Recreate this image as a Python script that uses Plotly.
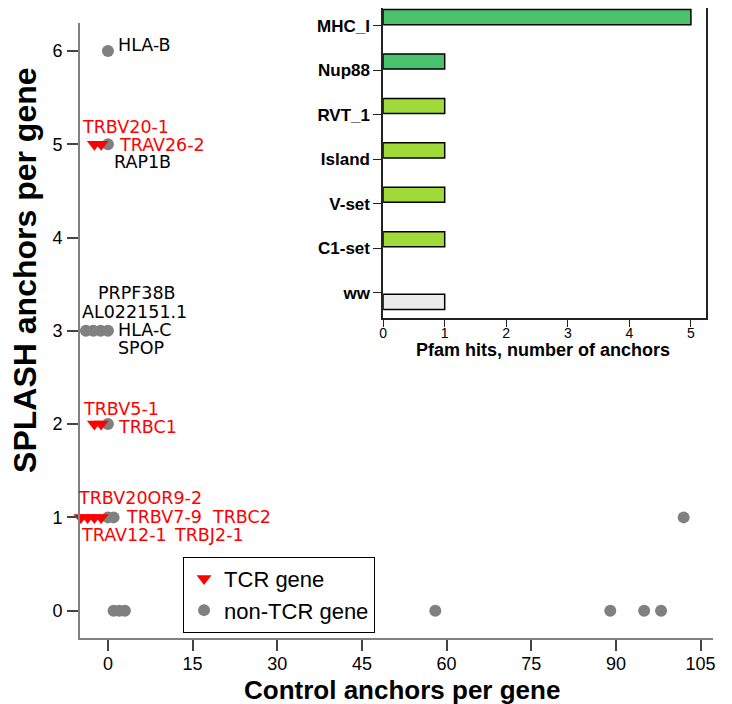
import plotly.graph_objects as go

# ---------------- data ----------------
tcr_genes = ["TRBV20-1", "TRAV26-2", "TRBV5-1", "TRBC1", "TRBV7-9",
             "TRBC2", "TRBJ2-1", "TRAV12-1", "TRBV20OR9-2"]
tcr_control = [-2.4, -1.2, -2.4, -1.2, -1.2, -2.4, -3.6, -4.8, -6.0]
tcr_splash = [5, 5, 2, 2, 1, 1, 1, 1, 1]

other_genes = ["HLA-B", "RAP1B", "SPOP", "HLA-C", "AL022151.1", "PRPF38B",
               "", "", "", "", "", "", "", "", "", "", ""]
other_control = [0, 0, 0, -1.3, -2.6, -3.9, 0, 0, 1, 102, 1, 2, 3, 58, 89, 95, 98]
other_splash = [6, 5, 3, 3, 3, 3, 2, 1, 1, 1, 0, 0, 0, 0, 0, 0, 0]

pfam_domains = ["MHC_I", "Nup88", "RVT_1", "Island", "V-set", "C1-set", "ww"]
pfam_hits = [5, 1, 1, 1, 1, 1, 1]

x_ticks = [0, 15, 30, 45, 60, 75, 90, 105]
y_ticks = [0, 1, 2, 3, 4, 5, 6]
pfam_ticks = [0, 1, 2, 3, 4, 5]

# ---------------- styles ----------------
pfam_colors = ["#4AC16D", "#4AC16D", "#A0DA39", "#A0DA39", "#A0DA39", "#A0DA39", "#EBEBEB"]
bar_width = 0.34
bar_offsets = [-0.37, -0.37, -0.37, -0.37, -0.37, -0.37, 0.04]

# label placement: gene -> (xshift px, yshift px), text anchored left
label_pos = {
    "HLA-B": (8, 6),
    "TRBV20-1": (-14, 17),
    "TRAV26-2": (16, -1),
    "RAP1B": (4, -18),
    "SPOP": (8, -17),
    "HLA-C": (15, 1),
    "AL022151.1": (-13, 19),
    "PRPF38B": (10, 38),
    "TRBV5-1": (-13, 15),
    "TRBC1": (15, -3),
    "TRBV7-9": (23, 0),
    "TRBC2": (116, 0),
    "TRBJ2-1": (84, -18),
    "TRAV12-1": (-2, -18),
    "TRBV20OR9-2": (2, 19),
}

X_RANGE = [-4.95, 107.2]
Y_RANGE = [-0.293, 6.303]
PLOT_W = 632.7
PX_PER_X = PLOT_W / (X_RANGE[1] - X_RANGE[0])

SANS = "Liberation Sans"
LABEL_FONT = "DejaVu Sans"
GREY = "#808080"
RED = "#FF0000"

fig = go.Figure()

fig.add_trace(go.Scatter(
    x=other_control, y=other_splash, mode="markers", name="non-TCR gene",
    marker=dict(symbol="circle", size=12, color=GREY),
    cliponaxis=False, legendrank=2, xaxis="x", yaxis="y",
))
fig.add_trace(go.Scatter(
    x=tcr_control, y=tcr_splash, mode="markers", name="TCR gene",
    marker=dict(symbol="triangle-down", size=13, color=RED),
    cliponaxis=False, legendrank=1, xaxis="x", yaxis="y",
))

fig.add_trace(go.Bar(
    x=pfam_hits, y=pfam_domains, orientation="h",
    marker=dict(color=pfam_colors, line=dict(color="black", width=1.5)),
    width=bar_width, offset=bar_offsets,
    showlegend=False, xaxis="x2", yaxis="y2",
))

annotations = []
for names, xs, ys, col in ((tcr_genes, tcr_control, tcr_splash, RED),
                           (other_genes, other_control, other_splash, "black")):
    for n, xv, yv in zip(names, xs, ys):
        if not n:
            continue
        dx, dy = label_pos[n]
        # annotations are hidden when anchored outside the axis range:
        # anchor at the range edge and compensate the shift in pixels
        xa = max(xv, X_RANGE[0] + 0.01)
        dx += (xv - xa) * PX_PER_X
        annotations.append(dict(
            x=xa, y=yv, xref="x", yref="y", text=n, showarrow=False,
            xanchor="left", yanchor="middle", xshift=dx, yshift=dy,
            font=dict(family=LABEL_FONT, size=17.5, color=col),
        ))

# axis titles
annotations += [
    dict(text="Control anchors per gene", xref="paper", yref="paper",
         x=0.5089, y=-0.082, showarrow=False, xanchor="center", yanchor="middle",
         font=dict(family=SANS, size=26, color="black", weight="bold")),
    dict(text="SPLASH anchors per gene", xref="paper", yref="paper",
         x=-0.0869, y=0.5843, showarrow=False, xanchor="center", yanchor="middle",
         textangle=-90,
         font=dict(family=SANS, size=32, color="black", weight="bold")),
    dict(text="Pfam hits, number of anchors", xref="paper", yref="paper",
         x=0.7310, y=0.4574, showarrow=False, xanchor="center", yanchor="middle",
         font=dict(family=SANS, size=18, color="black", weight="bold")),
]

fig.update_layout(
    width=724, height=696,
    margin=dict(l=72, r=19.3, t=0, b=65.7, autoexpand=False),
    paper_bgcolor="white", plot_bgcolor="rgba(0,0,0,0)",
    font=dict(family=SANS, color="black"),
    annotations=annotations,
    xaxis=dict(
        domain=[0, 1], range=X_RANGE, tickvals=x_ticks,
        showgrid=False, zeroline=False,
        showline=True, linecolor=GREY, linewidth=2,
        ticks="outside", ticklen=11, tickwidth=1.5, tickcolor="#444",
        tickfont=dict(family=SANS, size=18, color="black"),
        ticklabelstandoff=-3,
        anchor="y",
    ),
    yaxis=dict(
        domain=[0, 0.9767], range=Y_RANGE, tickvals=y_ticks,
        showgrid=False, zeroline=False,
        showline=True, linecolor=GREY, linewidth=2,
        ticks="outside", ticklen=11, tickwidth=1.5, tickcolor="#444",
        tickfont=dict(family=SANS, size=18, color="black"),
        ticklabelstandoff=1,
        anchor="x",
    ),
    xaxis2=dict(
        domain=[0.4789, 0.9894], range=[0, 5.25], tickvals=pfam_ticks,
        showgrid=False, zeroline=False,
        showline=True, linecolor="#222", linewidth=1.5,
        ticks="outside", ticklen=7, tickwidth=1.2, tickcolor="#222",
        tickfont=dict(family=SANS, size=14, color="black"),
        ticklabelstandoff=-5,
        anchor="y2",
    ),
    yaxis2=dict(
        domain=[0.5082, 1], type="category",
        categoryorder="array", categoryarray=pfam_domains,
        range=[6.569, -0.405],
        showgrid=False, zeroline=False,
        showline=True, linecolor="#222", linewidth=1.5, mirror=True,
        ticks="outside", ticklen=8, tickwidth=1.2, tickcolor="#222",
        tickfont=dict(family=SANS, size=17, color="black", weight="bold"),
        anchor="x2",
    ),
    showlegend=True,
    legend=dict(
        x=0.1628, y=0.129, xanchor="left", yanchor="top",
        bordercolor="black", borderwidth=1, bgcolor="white",
        font=dict(family=SANS, size=22, color="black"),
        itemsizing="trace",
    ),
)

fig.write_html("out.html")
